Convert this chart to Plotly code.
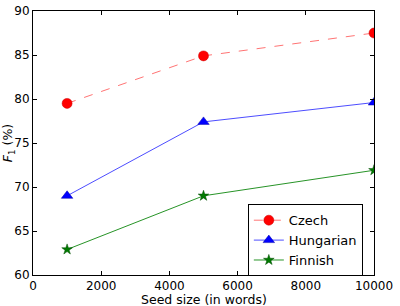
import plotly.graph_objects as go

seed_sizes = [1000, 5000, 10000]
czech = [79.5, 84.9, 87.5]
hungarian = [69.0, 77.4, 79.6]
finnish = [62.9, 69.0, 71.9]

x_ticks = [0, 2000, 4000, 6000, 8000, 10000]
y_ticks = [60, 65, 70, 75, 80, 85, 90]

fig = go.Figure()
fig.add_trace(go.Scatter(x=seed_sizes, y=czech, name="Czech", mode="lines+markers",
                         line=dict(color="rgba(255,0,0,0.55)", width=1, dash="dash"),
                         marker=dict(symbol="circle", size=10, color="#ff0000",
                                     line=dict(color="#cc0000", width=0.5))))
fig.add_trace(go.Scatter(x=seed_sizes, y=hungarian, name="Hungarian", mode="lines+markers",
                         line=dict(color="rgba(0,0,255,0.7)", width=1),
                         marker=dict(symbol="triangle-up", size=10, color="#0000ff",
                                     line=dict(color="#0000aa", width=0.5))))
fig.add_trace(go.Scatter(x=seed_sizes, y=finnish, name="Finnish", mode="lines+markers",
                         line=dict(color="rgba(0,128,0,0.85)", width=1),
                         marker=dict(symbol="star", size=8, color="#007a00",
                                     line=dict(color="#004d00", width=0.5))))

axis_common = dict(showline=True, linecolor="black", linewidth=1, mirror="ticks",
                   ticks="inside", ticklen=4, tickcolor="black", showgrid=False,
                   zeroline=False, automargin=False,
                   tickfont=dict(family="DejaVu Sans", size=12, color="black"))

fig.update_layout(
    width=400, height=306,
    margin=dict(l=33, r=26, t=11, b=31),
    paper_bgcolor="white", plot_bgcolor="white",
    font=dict(family="DejaVu Sans", color="black"),
    xaxis=dict(range=[0, 10000], tickvals=x_ticks, ticktext=[str(v) for v in x_ticks],
               **axis_common),
    yaxis=dict(range=[60, 90], tickvals=y_ticks, ticktext=[str(v) for v in y_ticks],
               title=dict(text="<i>F</i><sub>1</sub> (%)", font=dict(size=12.5), standoff=3),
               **axis_common),
    legend=dict(x=0.63, y=0.268, xanchor="left", yanchor="top",
                bordercolor="black", borderwidth=1, bgcolor="white",
                font=dict(size=13, family="DejaVu Sans"), tracegroupgap=0,
                itemwidth=30),
    showlegend=True,
    annotations=[dict(text="Seed size (in words)", x=0.5, y=0, xref="paper", yref="paper",
                      xanchor="center", yanchor="top", yshift=-15, showarrow=False,
                      font=dict(size=12.5, family="DejaVu Sans", color="black"))],
)

fig.write_html("out.html")
